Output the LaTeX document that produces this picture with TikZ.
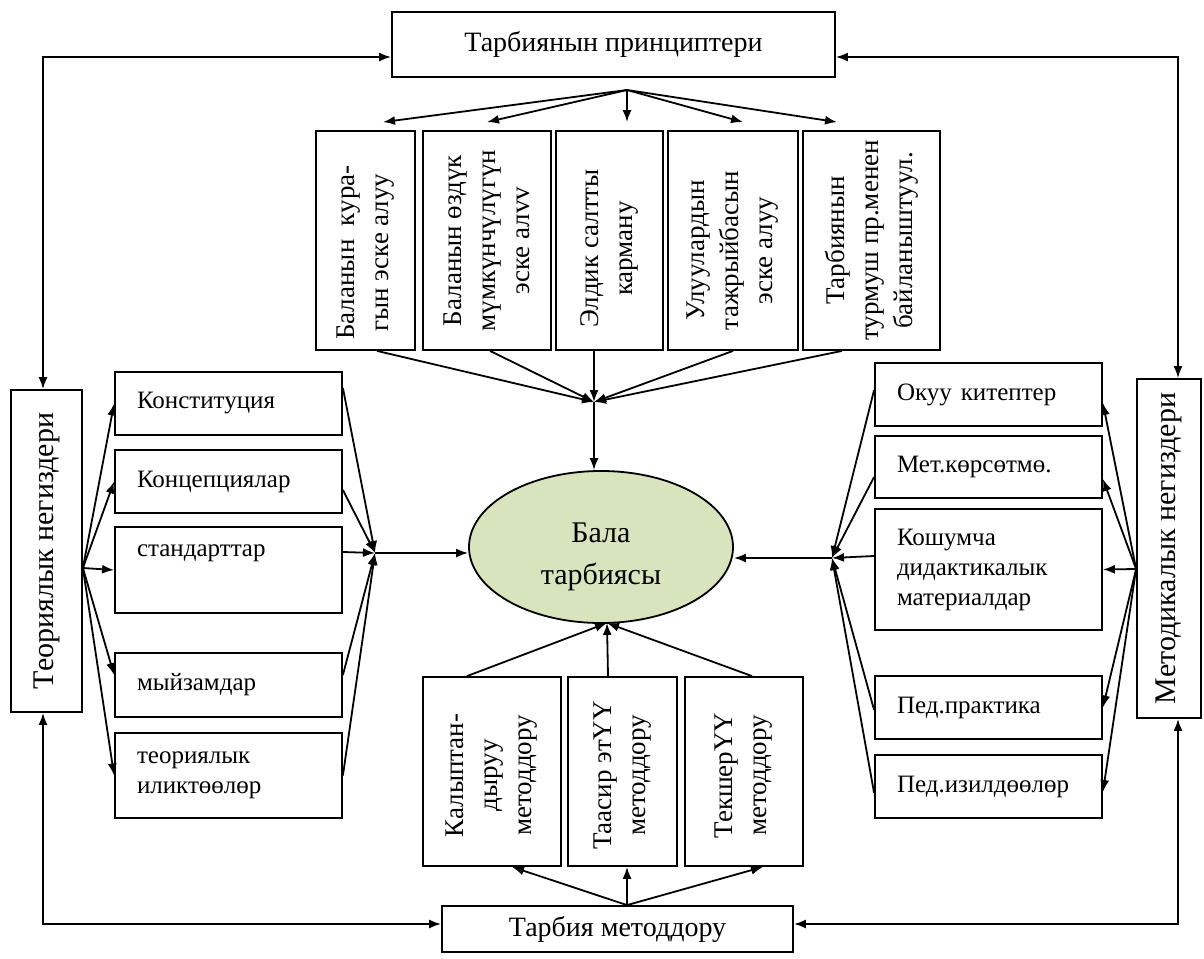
\documentclass[tikz,border=0pt]{standalone}
\usepackage{fontspec}
\setmainfont{Liberation Serif}
\usetikzlibrary{shapes.geometric,arrows.meta}
\definecolor{ellgreen}{HTML}{D7E4BD}
\tikzset{
  box/.style={draw, line width=1.8pt, inner sep=0pt},
  lbox/.style={box, minimum width=227pt, text width=183pt, align=left, inner xsep=22pt, font=\fontsize{25}{30}\selectfont},
  vtext/.style={rotate=90, align=center, inner sep=0pt, font=\fontsize{27}{34}\selectfont},
  sidetext/.style={rotate=90, align=center, inner sep=0pt, font=\fontsize{30}{36}\selectfont},
  ln/.style={line width=1.8pt},
  arr/.style={ln, -{Latex[length=12pt,width=9pt]}},
  dbl/.style={ln, {Latex[length=12pt,width=9pt]}-{Latex[length=12pt,width=9pt]}}
}
\begin{document}
\begin{tikzpicture}[x=1pt,y=-1pt]
\fill[white] (0,0) rectangle (1204,958);
\useasboundingbox (0,0) rectangle (1204,958);

% title boxes
\node[box, minimum width=443pt, minimum height=65pt, font=\fontsize{28}{33}\selectfont] (title) at (613.5,44.5) {Тарбиянын принциптери};
\node[box, minimum width=351pt, minimum height=46pt, font=\fontsize{28}{33}\selectfont] (bot) at (617.5,929) {Тарбия методдору};

% top principle boxes
\node[box, minimum width=99pt, minimum height=219pt] (T1) at (365.5,240.5) {};
\node[box, minimum width=128pt, minimum height=219pt] (T2) at (487,240.5) {};
\node[box, minimum width=107pt, minimum height=219pt] (T3) at (609.5,240.5) {};
\node[box, minimum width=130pt, minimum height=219pt] (T4) at (733,240.5) {};
\node[box, minimum width=137pt, minimum height=219pt] (T5) at (871.5,240.5) {};
\node[vtext] (T1t) at ([yshift=-12pt]T1.center) {Баланын\ \ кура-\\гын эске алуу};
\node[vtext] (T2t) at (T2) {Баланын өздүк\\мүмкүнчүлүгүн\\эске алvv};
\node[vtext] (T3t) at ([yshift=-8pt]T3.center) {Элдик салтты\\карману};
\node[vtext] (T4t) at ([yshift=-10pt]T4.center) {Улуулардын\\тажрыйбасын\\эске алуу};
\node[vtext] (T5t) at (T5) {Тарбиянын\\турмуш пр.менен\\байланыштуул.};

% central ellipse
\node[ellipse, draw, line width=1.8pt, fill=ellgreen, minimum width=264pt, minimum height=152pt, inner sep=0pt] (ell) at (601,547) {};
\node[align=center, inner sep=0pt, font=\fontsize{30}{42}\selectfont] (ellt) at (601,557) {Бала\\тарбиясы};

% side boxes
\node[box, minimum width=71pt, minimum height=322pt] (teo) at (46.5,551) {};
\node[sidetext] (teot) at (teo) {Теориялык негиздери};
\node[box, minimum width=64pt, minimum height=339pt] (met) at (1169,548.5) {};
\node[sidetext] (mett) at (met) {Методикалык негиздери};

% left list
\node[lbox, minimum height=63pt] (L1) at (228.5,403.5) {Конституция};
\node[lbox, minimum height=63pt] (L2) at (228.5,481.5) {Концепциялар};
\node[lbox, minimum height=86pt] (L3) at (228.5,570) {стандарттар\\ \strut};
\node[lbox, minimum height=64pt] (L4) at (228.5,685) {мыйзамдар};
\node[lbox, minimum height=85pt] (L5) at (228.5,775.5) {теориялык\\иликтөөлөр};

% right list
\node[lbox, minimum height=63pt] (R1) at (988.5,394.5) {Окуу\hspace{9pt}китептер};
\node[lbox, minimum height=62pt] (R2) at (988.5,467) {Мет.көрсөтмө.};
\node[lbox, minimum height=121pt] (R3) at (988.5,569.5) {Кошумча\\дидактикалык\\материалдар};
\node[lbox, minimum height=63pt] (R4) at (988.5,707.5) {Пед.практика};
\node[lbox, minimum height=63pt] (R5) at (988.5,786.5) {Пед.изилдөөлөр};

% bottom method boxes
\node[box, minimum width=138pt, minimum height=189pt] (B1) at (492,771.5) {};
\node[box, minimum width=109pt, minimum height=189pt] (B2) at (622.5,771.5) {};
\node[box, minimum width=118pt, minimum height=189pt] (B3) at (744,771.5) {};
\node[vtext] (B1t) at ([yshift=-4pt]B1.center) {Калыптан-\\дыруу\\методдору};
\node[vtext] (B2t) at ([yshift=-4pt]B2.center) {Таасир этҮҮ\\методдору};
\node[vtext] (B3t) at ([yshift=-4pt]B3.center) {ТекшерҮҮ\\методдору};

% junction points
\coordinate (tf) at (627,90);
\coordinate (tc) at (594,402);
\coordinate (lc) at (375,553);
\coordinate (rc) at (832,558);
\coordinate (bc) at (607,623);

% outer loop
\draw[dbl] ([yshift=-12.5pt]title.west) -| ([xshift=-3.5pt]teo.north);
\draw[dbl] ([yshift=-12.5pt]title.east) -| ([xshift=9pt]met.north);
\draw[dbl] ([yshift=5pt]bot.west) -| ([xshift=-3.5pt]teo.south);
\draw[dbl] ([yshift=5pt]bot.east) -| ([xshift=9pt]met.south);

% top fan
\draw[arr] (tf) -- ([xshift=17.5pt,yshift=8pt]T1.north);
\draw[arr] (tf) -- ([yshift=8pt]T2.north);
\draw[arr] (tf) -- ([xshift=17.5pt,yshift=8pt]T3.north);
\draw[arr] (tf) -- ([xshift=10pt,yshift=8pt]T4.north);
\draw[arr] (tf) -- ([xshift=-34.5pt,yshift=8pt]T5.north);

% top convergence
\draw[arr] ([xshift=11.5pt]T1.south) -- (tc);
\draw[arr] ([xshift=3pt]T2.south) -- (tc);
\draw[arr] ([xshift=-15.5pt]T3.south) -- (tc);
\draw[arr] (T4.south) -- (tc);
\draw[arr] ([xshift=-29.5pt]T5.south) -- (tc);
\draw[arr] (tc) -- (tc |- ell.north);

% left fan
\draw[arr] ([yshift=-17pt]teo.east) -- (L1.west);
\draw[arr] ([yshift=-17pt]teo.east) -- (L2.west);
\draw[arr] ([yshift=-17pt]teo.east) -- (L3.west);
\draw[arr] ([yshift=-17pt]teo.east) -- ([yshift=10pt]L4.west);
\draw[arr] ([yshift=-17pt]teo.east) -- (L5.west);

% left convergence
\draw[arr] ([yshift=15.5pt]L1.east) -- (lc);
\draw[arr] ([yshift=-8.5pt]L2.east) -- (lc);
\draw[arr] ([yshift=18pt]L3.east) -- (lc);
\draw[arr] ([yshift=10pt]L4.east) -- (lc);
\draw[arr] (L5.east) -- (lc);
\draw[arr] (lc) -- (lc -| ell.west);

% right fan
\draw[arr] ([yshift=-20.5pt]met.west) -- ([yshift=-8.5pt]R1.east);
\draw[arr] ([yshift=-20.5pt]met.west) -- ([yshift=-12pt]R2.east);
\draw[arr] ([yshift=-20.5pt]met.west) -- (R3.east);
\draw[arr] ([yshift=-20.5pt]met.west) -- (R4.east);
\draw[arr] ([yshift=-20.5pt]met.west) -- ([yshift=-5.5pt]R5.east);

% right convergence
\draw[arr] ([yshift=4.5pt]R1.west) -- (rc);
\draw[arr] ([yshift=-10pt]R2.west) -- (rc);
\draw[arr] ([yshift=13.5pt]R3.west) -- (rc);
\draw[arr] ([yshift=-2.5pt]R4.west) -- (rc);
\draw[arr] ([yshift=-6.5pt]R5.west) -- (rc);
\draw[arr] (rc) -- (rc -| ell.east);

% bottom fan
\draw[arr] ([xshift=9.5pt]bot.north) -- ([xshift=20pt]B1.south);
\draw[arr] ([xshift=9.5pt]bot.north) -- ([xshift=4.5pt]B2.south);
\draw[arr] ([xshift=9.5pt]bot.north) -- ([xshift=19pt]B3.south);

% bottom convergence
\draw[arr] ([xshift=-25pt]B1.north) -- (bc);
\draw[arr] ([xshift=-14.5pt]B2.north) -- (bc);
\draw[arr] ([xshift=8pt]B3.north) -- (bc);
\end{tikzpicture}
\end{document}
